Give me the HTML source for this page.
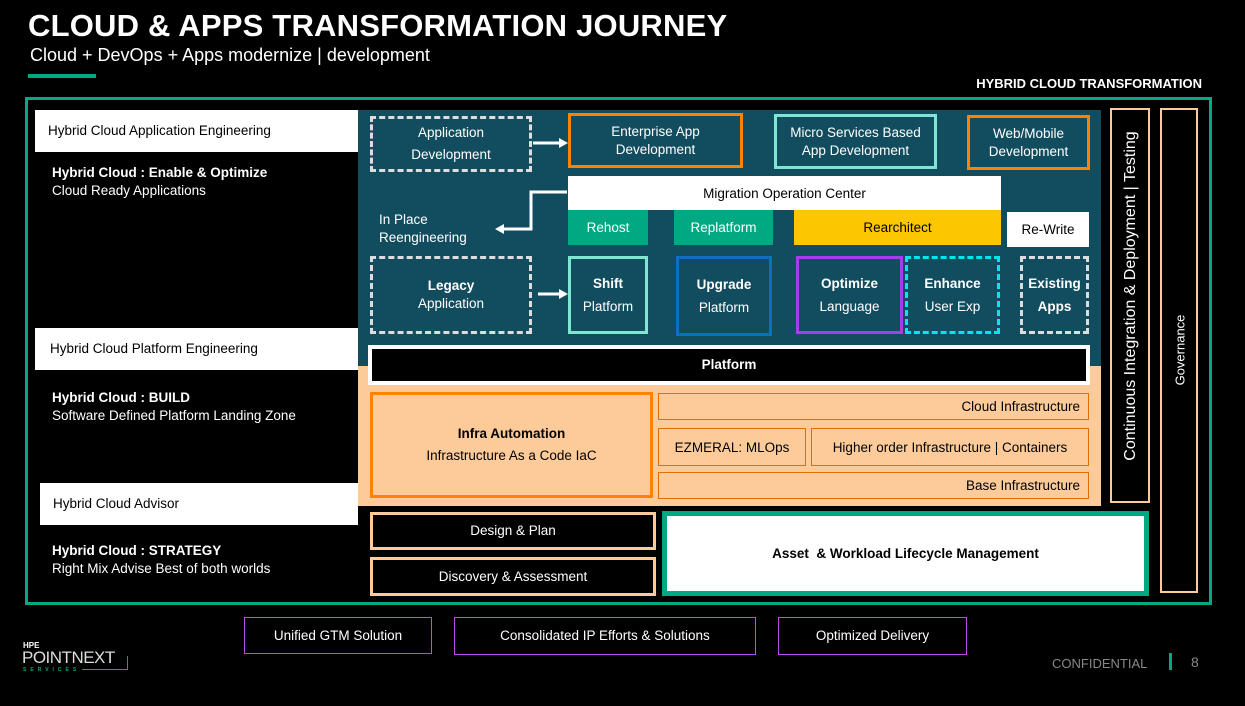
<!DOCTYPE html>
<html><head><style>
body{margin:0;width:1245px;height:706px;background:#000;position:relative;overflow:hidden;font-family:"Liberation Sans",sans-serif;}
.a{position:absolute;box-sizing:border-box;}
.c{display:flex;align-items:center;justify-content:center;text-align:center;flex-direction:column;}
.w{color:#fff;font-size:13.5px;line-height:18px;}
.k{color:#000;font-size:13.5px;}
b{font-weight:bold;}
</style></head><body>
<div class="a" style="left:28px;top:8px;color:#fff;font-weight:bold;font-size:31px;letter-spacing:0.2px">CLOUD &amp; APPS TRANSFORMATION JOURNEY</div>
<div class="a" style="left:30px;top:45px;color:#fff;font-size:18px">Cloud + DevOps + Apps modernize | development</div>
<div class="a" style="left:28px;top:74px;width:68px;height:4px;background:#01a982"></div>
<div class="a" style="left:969px;top:76px;width:233px;text-align:right;color:#fff;font-weight:bold;font-size:13px">HYBRID CLOUD TRANSFORMATION</div>

<div class="a" style="left:25px;top:97px;width:1187px;height:508px;border:3px solid #01a982"></div>

<div class="a k" style="left:35px;top:110px;width:323px;height:42px;background:#fff;padding:13px 0 0 13px">Hybrid Cloud Application Engineering</div>
<div class="a w" style="left:52px;top:164px"><b>Hybrid Cloud : Enable &amp; Optimize</b><br>Cloud Ready Applications</div>
<div class="a k" style="left:35px;top:328px;width:323px;height:42px;background:#fff;padding:13px 0 0 15px">Hybrid Cloud Platform Engineering</div>
<div class="a w" style="left:52px;top:389px"><b>Hybrid Cloud : BUILD</b><br>Software Defined Platform Landing Zone</div>
<div class="a k" style="left:40px;top:483px;width:318px;height:42px;background:#fff;padding:13px 0 0 13px">Hybrid Cloud Advisor</div>
<div class="a w" style="left:52px;top:542px"><b>Hybrid Cloud : STRATEGY</b><br>Right Mix Advise Best of both worlds</div>

<div class="a" style="left:358px;top:110px;width:743px;height:256px;background:#124c5f"></div>
<div class="a" style="left:358px;top:366px;width:743px;height:140px;background:#fdcb99"></div>

<div class="a c w" style="left:370px;top:116px;width:162px;height:56px;border:3px dashed #ddd;line-height:22px">Application<br>Development</div>
<div class="a c w" style="left:568px;top:113px;width:175px;height:55px;border:3px solid #ff8300">Enterprise App<br>Development</div>
<div class="a c w" style="left:774px;top:114px;width:163px;height:55px;border:3px solid #7fe6d1">Micro Services Based<br>App Development</div>
<div class="a c w" style="left:967px;top:115px;width:123px;height:55px;border:3px solid #ff8300">Web/Mobile<br>Development</div>

<div class="a c k" style="left:568px;top:176px;width:433px;height:34px;background:#fff">Migration Operation Center</div>
<div class="a c w" style="left:568px;top:210px;width:80px;height:35px;background:#01a982">Rehost</div>
<div class="a c w" style="left:674px;top:210px;width:99px;height:35px;background:#01a982">Replatform</div>
<div class="a c k" style="left:794px;top:210px;width:207px;height:35px;background:#fcc700">Rearchitect</div>
<div class="a c k" style="left:1007px;top:212px;width:82px;height:35px;background:#fff">Re-Write</div>
<div class="a w" style="left:379px;top:211px">In Place<br>Reengineering</div>
<svg class="a" style="left:490px;top:120px" width="80" height="190">
<g stroke="#fff" stroke-width="3" fill="none"><path d="M43 23H70"/><path d="M77 72H41V109H12"/><path d="M48 174H70"/></g>
<g fill="#fff"><path d="M78 23l-9-5v10z"/><path d="M5 109l9-5v10z"/><path d="M78 174l-9-5v10z"/></g>
</svg>

<div class="a c w" style="left:370px;top:256px;width:162px;height:78px;border:3px dashed #ddd"><b>Legacy</b>Application</div>
<div class="a c w" style="left:568px;top:256px;width:80px;height:78px;border:3px solid #7fe6d1;line-height:23px"><b>Shift</b>Platform</div>
<div class="a c w" style="left:676px;top:256px;width:96px;height:80px;border:3px solid #0d6fc0;line-height:23px"><b>Upgrade</b>Platform</div>
<div class="a c w" style="left:796px;top:256px;width:107px;height:78px;border:3px solid #a43ee6;line-height:23px"><b>Optimize</b>Language</div>
<div class="a c w" style="left:905px;top:256px;width:95px;height:78px;border:3px dashed #00e5f0;line-height:23px"><b>Enhance</b>User Exp</div>
<div class="a c w" style="left:1020px;top:256px;width:69px;height:78px;border:3px dashed #ddd;line-height:23px"><b>Existing<br>Apps</b></div>

<div class="a c w" style="left:368px;top:345px;width:722px;height:40px;background:#000;border:4px solid #fff"><b>Platform</b></div>

<div class="a c k" style="left:370px;top:392px;width:283px;height:106px;border:3px solid #ff8300;line-height:22px"><b>Infra Automation</b>Infrastructure As a Code IaC</div>
<div class="a k" style="left:658px;top:393px;width:431px;height:27px;border:1px solid #e07000;text-align:right;padding:5px 8px 0 0">Cloud Infrastructure</div>
<div class="a c k" style="left:658px;top:428px;width:148px;height:38px;border:1px solid #e07000">EZMERAL: MLOps</div>
<div class="a c k" style="left:811px;top:428px;width:278px;height:38px;border:1px solid #e07000">Higher order Infrastructure | Containers</div>
<div class="a k" style="left:658px;top:472px;width:431px;height:27px;border:1px solid #e07000;text-align:right;padding:5px 8px 0 0">Base Infrastructure</div>

<div class="a c w" style="left:370px;top:512px;width:286px;height:38px;border:3px solid #fdcb99">Design &amp; Plan</div>
<div class="a c w" style="left:370px;top:557px;width:286px;height:39px;border:3px solid #fdcb99">Discovery &amp; Assessment</div>
<div class="a c k" style="left:662px;top:511px;width:487px;height:85px;background:#fff;border:5px solid #01a982"><b>Asset &nbsp;&amp; Workload Lifecycle Management</b></div>

<div class="a" style="left:1110px;top:108px;width:40px;height:395px;border:2px solid #fdcb99"></div>
<div class="a" style="left:1131px;top:296px;width:390px;transform:translate(-50%,-50%) rotate(-90deg);color:#fff;font-size:16px;text-align:center;white-space:nowrap">Continuous Integration &amp; Deployment | Testing</div>
<div class="a" style="left:1160px;top:108px;width:38px;height:485px;border:2px solid #fdcb99"></div>
<div class="a" style="left:1180px;top:350px;width:100px;transform:translate(-50%,-50%) rotate(-90deg);color:#fff;font-size:13px;text-align:center">Governance</div>

<div class="a c w" style="left:244px;top:617px;width:188px;height:37px;border:1px solid #b84ee8">Unified GTM Solution</div>
<div class="a c w" style="left:454px;top:617px;width:302px;height:38px;border:1px solid #b84ee8">Consolidated IP Efforts &amp; Solutions</div>
<div class="a c w" style="left:778px;top:617px;width:189px;height:38px;border:1px solid #b84ee8">Optimized Delivery</div>

<div class="a" style="left:23px;top:641px;color:#fff;font-weight:bold;font-size:8px">HPE</div>
<div class="a" style="left:22px;top:648px;color:#ddd;font-size:17px;letter-spacing:-0.5px">POINTNEXT</div>
<div class="a" style="left:23px;top:667px;color:#01a982;font-size:5px;letter-spacing:4px;font-weight:bold">SERVICES</div>
<div class="a" style="left:82px;top:669px;width:46px;height:1px;background:#01a982"></div>
<div class="a" style="left:127px;top:656px;width:1px;height:14px;background:#01a982"></div>

<div class="a" style="left:1052px;top:656px;color:#888;font-size:13px">CONFIDENTIAL</div>
<div class="a" style="left:1169px;top:653px;width:3px;height:17px;background:#01a982"></div>
<div class="a" style="left:1191px;top:654px;color:#888;font-size:14px">8</div>
</body></html>
